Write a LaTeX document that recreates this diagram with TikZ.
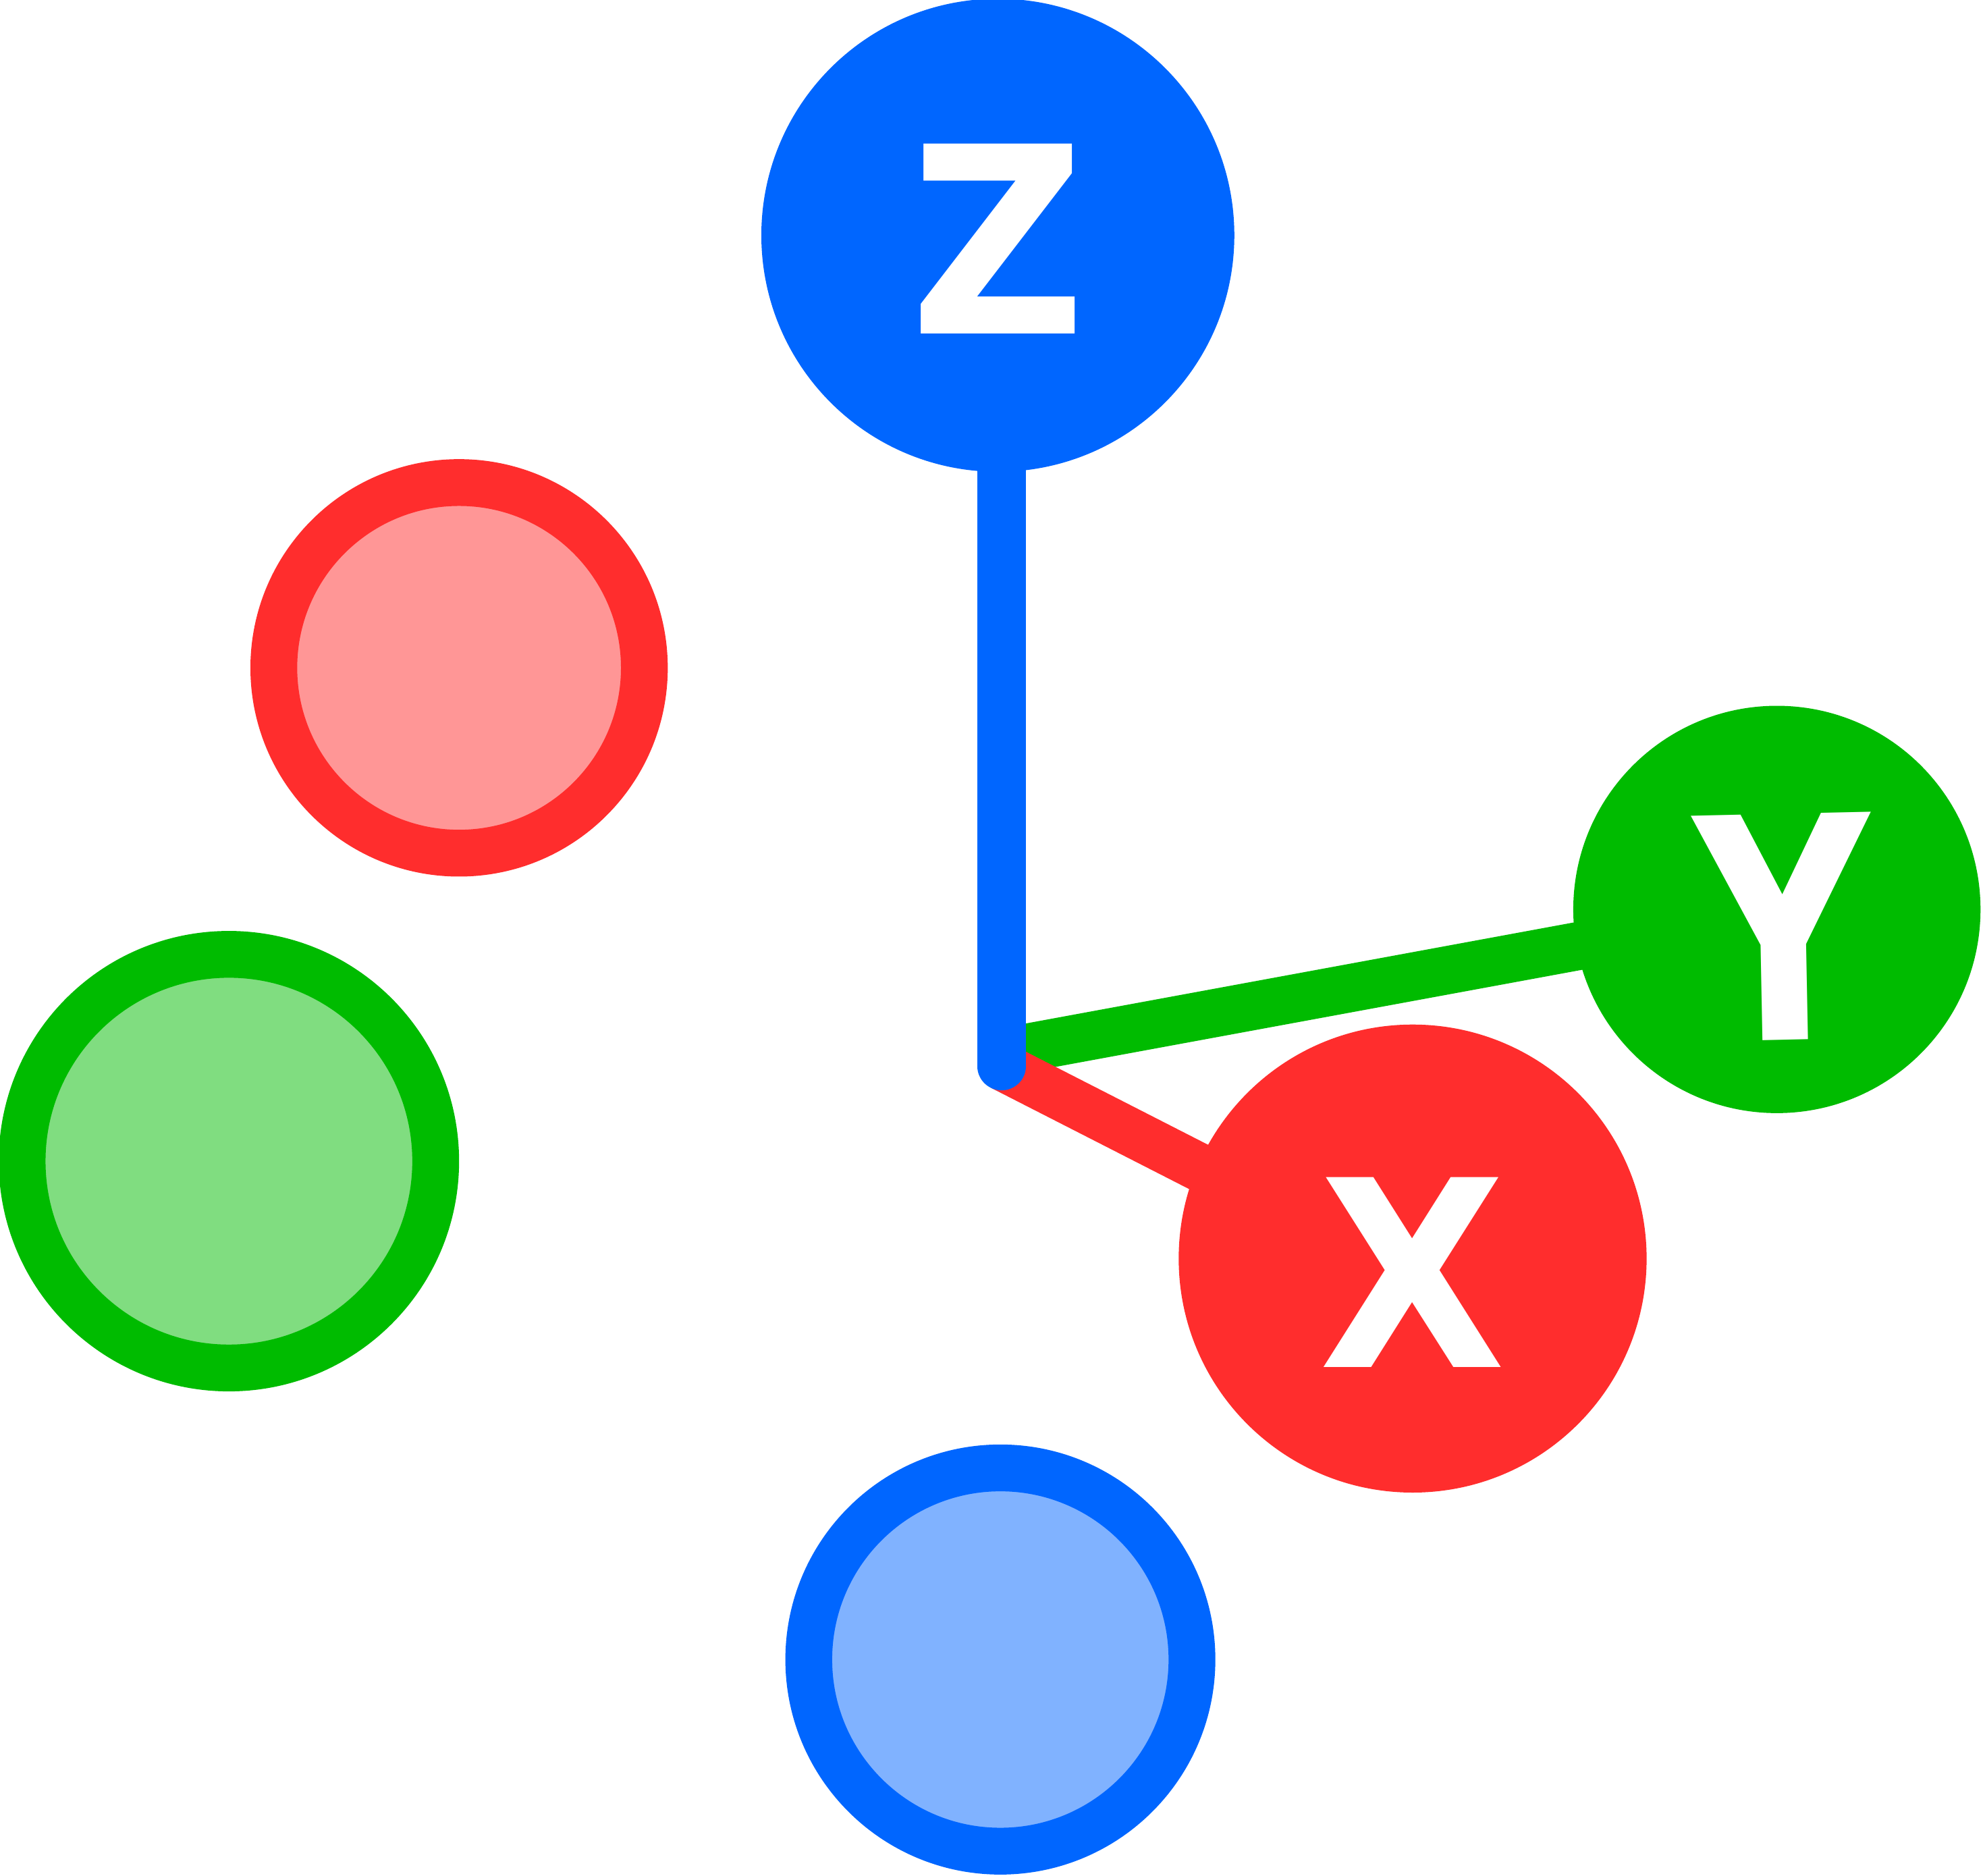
\documentclass[tikz,border=0pt]{standalone}
\usepackage{fontspec}
\setsansfont{DejaVu Sans}
\definecolor{zblue}{HTML}{0066FF}
\definecolor{xred}{HTML}{FF2D2D}
\definecolor{ygreen}{HTML}{00BB00}

\begin{document}
\begin{tikzpicture}[
    ball/.style={circle,inner sep=0pt},
    ring/.style={circle,inner sep=0pt,draw,line width=3.7mm},
    axis/.style={line width=3.8mm},
    lbl/.style={text=white,inner sep=0pt,xscale=0.93,font=\sffamily\bfseries\fontsize{58.6}{60}\selectfont}]
  \useasboundingbox (0,0) rectangle (15.68,14.83);
  % axis balls
  \node[ball,fill=zblue,minimum size=3.74cm] (Z) at (7.89,12.97) {};
  \node[ball,fill=ygreen,minimum size=3.22cm] (Y) at (14.05,7.64) {};
  \node[ball,fill=xred,minimum size=3.70cm] (X) at (11.17,4.88) {};
  % shadow rings
  \node[ring,draw=xred,fill=xred!50,minimum size=2.93cm] (xr) at (3.63,9.55) {};
  \node[ring,draw=ygreen,fill=ygreen!50,minimum size=3.27cm] (yr) at (1.81,5.65) {};
  \node[ring,draw=zblue,fill=zblue!50,minimum size=3.03cm] (zr) at (7.91,1.71) {};
  % axes
  \coordinate (o) at (7.92,6.40);
  \draw[axis,ygreen] ([yshift=1.1mm]o) -- (Y.center);
  \draw[axis,xred] (o) -- ([yshift=-1.4mm]X.center);
  \draw[axis,zblue,line cap=round] (o |- Z.center) -- (o);
  % labels
  \node[lbl] (zl) at (7.89,12.94) {Z};
  \node[lbl,rotate=1.2,yscale=1.19] (yl) at (14.10,7.50) {Y};
  \node[lbl] (xl) at (11.17,4.77) {X};
\end{tikzpicture}
\end{document}
